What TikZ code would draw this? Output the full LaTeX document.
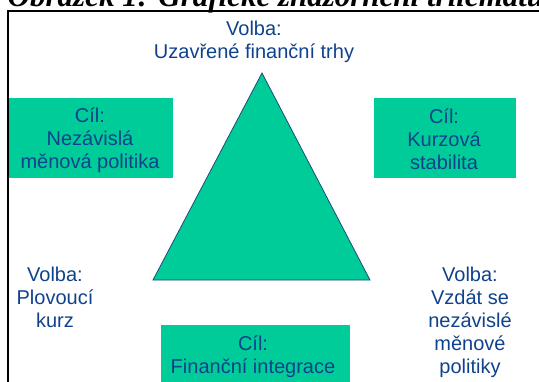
\documentclass[tikz,border=0pt]{standalone}
\usepackage{fontspec}
\setmainfont{Liberation Sans}
\newfontfamily\captionfont{Liberation Serif}
\usetikzlibrary{positioning}
\definecolor{trigreen}{RGB}{0,204,153}
\definecolor{txtblue}{RGB}{16,66,140}
\definecolor{edgeblue}{RGB}{31,73,125}

\begin{document}
\begin{tikzpicture}[x=1pt, y=-1pt,
  txt/.style={font=\fontsize{20}{23}\selectfont, text=txtblue, align=center,
              inner sep=0pt, anchor=base},
  cilbox/.style={rectangle, fill=trigreen, draw=none, inner sep=0pt}]

  % Fixed bounding box (page cut)
  \useasboundingbox (0,0) rectangle (539,381);
  \clip (0,0) rectangle (539,381);

  % ---- caption, cut at the top ----
  \node[font=\captionfont\bfseries\itshape\fontsize{31}{32}\selectfont,
        inner sep=0pt, anchor=base] (caption) at (276,6)
        {Obrázek 1: Grafické znázornění trilematu};

  % ---- frame ----
  \draw[line width=2pt] (8,390) -- (8,11) -- (560,11);

  % ---- triangle ----
  \coordinate (apex) at (262,73);
  \coordinate (baseL) at (153,280);
  \coordinate (baseR) at (370,280);
  \filldraw[fill=trigreen, draw=edgeblue, line width=0.8pt]
    (apex) -- (baseR) -- (baseL) -- cycle;

  % ---- goal boxes ----
  \node[cilbox, minimum width=164, minimum height=80] (boxMenova) at (91,138) {};
  \node[cilbox, minimum width=142, minimum height=80] (boxKurz) at (445,138) {};
  \node[cilbox, minimum width=189, minimum height=70] (boxIntegrace) at (255.5,360) {};

  % ---- texts (anchored at the last line) ----
  \node[txt] (volbaTrhy) at (254,58) {Volba:\\Uzavřené finanční trhy};
  \node[txt] (cilMenova) at (90,168) {Cíl:\\Nezávislá\\měnová politika};
  \node[txt] (cilKurz) at (444,169) {Cíl:\\Kurzová\\stabilita};
  \node[txt] (volbaKurz) at (55,327) {Volba:\\Plovoucí\\kurz};
  \node[txt] (volbaMenova) at (470,373) {Volba:\\Vzdát se\\nezávislé\\měnové\\politiky};
  \node[txt] (cilIntegrace) at (253,373) {Cíl:\\Finanční integrace};

\end{tikzpicture}
\end{document}
